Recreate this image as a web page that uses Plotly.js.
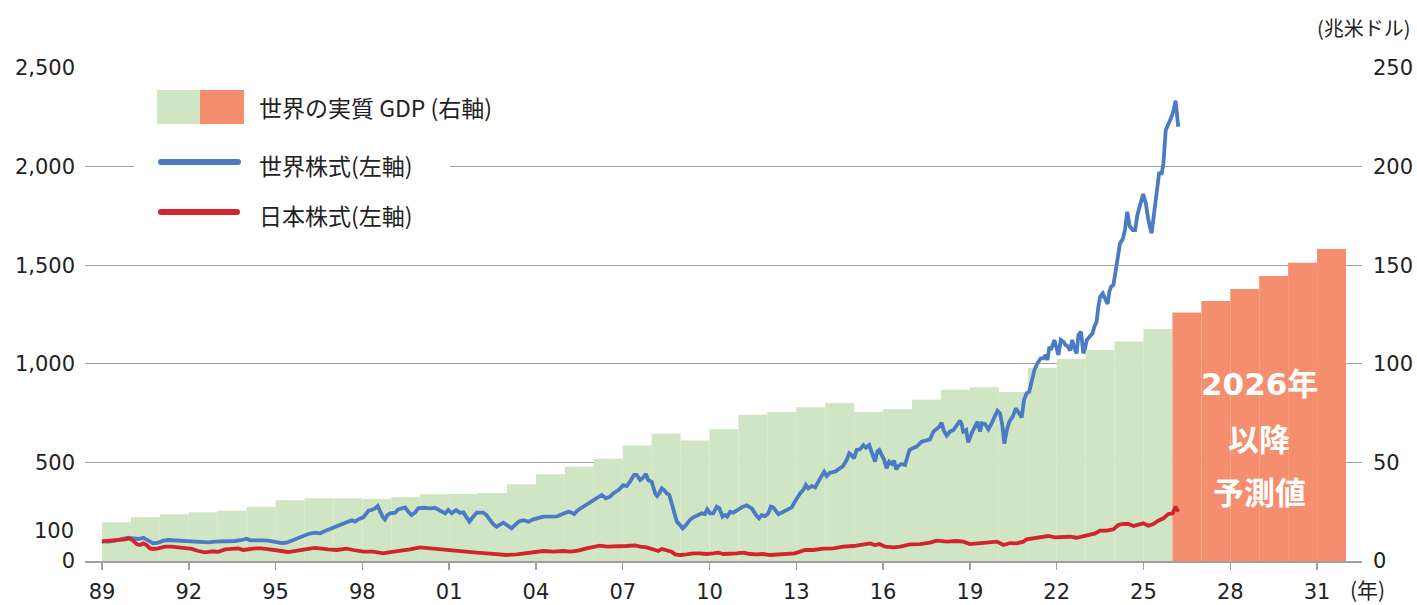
<!DOCTYPE html>
<html><head><meta charset="utf-8">
<script src="https://cdn.plot.ly/plotly-3.0.1.min.js"></script>
<style>html,body{margin:0;padding:0;background:#fff}</style>
</head><body><div id="chart" style="width:1417px;height:605px"></div>
<script>
// ---- DATA ----
const gdpYears = [1989,1990,1991,1992,1993,1994,1995,1996,1997,1998,1999,2000,2001,2002,2003,2004,2005,2006,2007,2008,2009,2010,2011,2012,2013,2014,2015,2016,2017,2018,2019,2020,2021,2022,2023,2024,2025];
const gdpValues = [19.6,22.2,23.7,24.7,25.5,27.5,30.8,31.8,31.8,31.4,32.3,33.8,34.0,34.5,38.9,44.0,47.8,51.8,58.6,64.5,61.1,66.8,74.2,75.5,78.0,80.1,75.6,77.0,81.8,86.8,88.1,85.7,97.9,102.4,107.0,111.3,117.6];
const forecastYears = [2026,2027,2028,2029,2030,2031];
const forecastValues = [126.0,131.8,137.9,144.5,151.3,158.2];

const worldX = [1989.0,1989.22,1989.45,1989.68,1989.91,1990.08,1990.26,1990.43,1990.54,1990.66,1990.77,1990.95,1991.12,1991.29,1991.52,1991.75,1991.98,1992.21,1992.45,1992.67,1992.91,1993.14,1993.37,1993.6,1993.83,1994.0,1994.12,1994.29,1994.52,1994.75,1994.98,1995.21,1995.38,1995.56,1995.67,1995.9,1996.13,1996.36,1996.54,1996.71,1996.88,1997.11,1997.34,1997.51,1997.63,1997.75,1997.86,1998.03,1998.15,1998.21,1998.32,1998.44,1998.53,1998.61,1998.7,1998.78,1998.86,1998.96,1999.13,1999.24,1999.36,1999.47,1999.59,1999.7,1999.82,1999.93,2000.1,2000.34,2000.51,2000.68,2000.86,2000.97,2001.09,2001.24,2001.37,2001.49,2001.6,2001.7,2001.83,2001.95,2002.18,2002.29,2002.41,2002.53,2002.64,2002.76,2002.87,2002.99,2003.16,2003.28,2003.4,2003.56,2003.74,2003.91,2004.08,2004.25,2004.49,2004.72,2004.9,2005.0,2005.12,2005.24,2005.32,2005.46,2005.64,2005.81,2005.98,2006.16,2006.27,2006.42,2006.56,2006.67,2006.85,2007.02,2007.14,2007.25,2007.39,2007.48,2007.6,2007.71,2007.8,2007.88,2008.0,2008.12,2008.19,2008.26,2008.35,2008.43,2008.52,2008.61,2008.69,2008.77,2008.87,2008.98,2009.07,2009.19,2009.32,2009.44,2009.58,2009.73,2009.84,2009.92,2010.02,2010.13,2010.25,2010.34,2010.45,2010.53,2010.61,2010.71,2010.82,2010.94,2011.11,2011.28,2011.46,2011.61,2011.71,2011.8,2011.92,2012.03,2012.12,2012.2,2012.3,2012.38,2012.49,2012.67,2012.84,2012.95,2013.07,2013.13,2013.24,2013.33,2013.41,2013.53,2013.65,2013.76,2013.88,2013.96,2014.05,2014.16,2014.34,2014.51,2014.62,2014.74,2014.83,2014.91,2014.99,2015.09,2015.2,2015.32,2015.41,2015.52,2015.61,2015.72,2015.8,2015.87,2015.95,2016.04,2016.12,2016.21,2016.3,2016.38,2016.45,2016.53,2016.64,2016.76,2016.84,2016.91,2017.02,2017.16,2017.33,2017.51,2017.62,2017.74,2017.85,2017.94,2018.02,2018.1,2018.2,2018.31,2018.43,2018.54,2018.66,2018.72,2018.77,2018.87,2018.94,2019.06,2019.18,2019.26,2019.35,2019.41,2019.52,2019.64,2019.75,2019.87,2019.95,2020.04,2020.12,2020.19,2020.27,2020.36,2020.48,2020.59,2020.67,2020.79,2020.87,2020.96,2021.05,2021.14,2021.23,2021.33,2021.45,2021.54,2021.62,2021.68,2021.75,2021.8,2021.86,2021.92,2021.98,2022.06,2022.14,2022.23,2022.31,2022.4,2022.46,2022.54,2022.61,2022.69,2022.75,2022.84,2022.92,2022.98,2023.04,2023.15,2023.24,2023.3,2023.38,2023.44,2023.5,2023.59,2023.67,2023.76,2023.82,2023.88,2023.96,2024.04,2024.1,2024.19,2024.28,2024.36,2024.44,2024.53,2024.63,2024.71,2024.79,2024.88,2024.99,2025.08,2025.17,2025.28,2025.36,2025.46,2025.54,2025.63,2025.69,2025.77,2025.86,2025.95,2026.03,2026.11,2026.2];
const worldY = [100,98,103,111.6,118,115,111.6,118,110,98,89.6,93,103,106.5,104.8,103,101.4,101.4,98,94.6,98,98,99.7,101.4,106.5,113,104.8,103,104.8,103,98,91.3,93,103,113,123.3,137,143.7,140.3,152,163,177.5,187.6,199.5,206.5,199.5,211.3,221.4,241.6,255,258.6,267,279,250,224.8,211,233,241.6,245,262,267,272,250,233,245,267,270,267,270,258.6,241.6,258.6,241.6,258.6,245,246.7,224.8,199.5,224.8,245,245,233,208,186,174,182.6,194,182.6,165.6,182.6,199.5,206.5,199.5,211,219.7,224.8,224.8,226,236.6,241.6,250,245,238,258.6,275.5,292.5,312.7,326,334.7,318,326,343,360,385,380,402,436,436,410.7,424,441,410.7,402,343,329.6,343,368.6,360,343,334.7,292.5,241.6,199.5,182.6,165.6,182.6,208,221.4,233,241.6,238,262,241.6,241.6,275.5,267,224.8,233,224.8,250,245,258.6,272,282.4,267,233,216.5,233,228,241.6,275.5,272,250,238,245,258.6,272,300,334.7,343,360,385.4,368.6,380,373.5,402,436,453,431,448,453,470,481.7,512,546,537.5,520.6,563,566,588,574.6,588,546,503.7,554.5,563,537.5,512,470,503.7,492,508.7,465,481.7,492,486.8,529,563,571.5,580,605,613.6,617,656,669.4,681,701.4,661,635.6,656,664,689.7,711.6,689.7,656,664,601.7,647.5,686,706.6,656,698,694.7,667.8,698,731.7,762,748,690,595,660,706,732,774,757,728,816,850,858,918,968.6,1002.5,1028,1028,1044.6,1019,1087,1070,1095,1120.7,1087,1044.6,1120.7,1112,1095,1087,1066.6,1120.7,1078.5,1053,1146,1163,1053,1078.5,1120.7,1137.6,1154.5,1188,1213.6,1289.6,1340,1357,1332,1303,1366,1391,1399.6,1475.7,1543,1611,1631,1678.5,1771,1695,1678.5,1678.5,1754.6,1797,1861,1814,1729,1662,1763,1881,1966,1966,2017,2186,2211,2245,2279,2334,2202];

const japanX = [1989.0,1989.33,1989.56,1989.79,1989.94,1990.08,1990.2,1990.31,1990.43,1990.54,1990.66,1990.77,1990.95,1991.18,1991.41,1991.64,1991.87,1992.1,1992.33,1992.56,1992.79,1993.02,1993.25,1993.48,1993.71,1993.88,1994.06,1994.29,1994.52,1994.75,1994.98,1995.21,1995.44,1995.67,1995.9,1996.13,1996.36,1996.59,1996.82,1997.11,1997.46,1997.69,1998.03,1998.38,1998.72,1998.96,1999.3,1999.65,1999.99,2000.22,2000.57,2000.91,2001.26,2001.6,2001.95,2002.3,2002.64,2002.99,2003.34,2003.56,2003.79,2004.03,2004.25,2004.6,2004.95,2005.18,2005.46,2005.75,2005.98,2006.21,2006.45,2006.67,2006.91,2007.14,2007.42,2007.6,2007.83,2008.06,2008.23,2008.35,2008.52,2008.69,2008.81,2008.98,2009.21,2009.44,2009.67,2009.9,2010.13,2010.3,2010.48,2010.71,2010.94,2011.17,2011.4,2011.63,2011.86,2012.09,2012.32,2012.55,2012.78,2012.95,2013.13,2013.3,2013.59,2013.93,2014.28,2014.62,2014.97,2015.32,2015.55,2015.72,2015.87,2016.07,2016.36,2016.59,2016.93,2017.28,2017.62,2017.85,2018.2,2018.54,2018.77,2019.0,2019.35,2019.7,2019.93,2020.16,2020.39,2020.62,2020.85,2020.96,2021.19,2021.42,2021.71,2021.94,2022.23,2022.46,2022.69,2022.92,2023.15,2023.33,2023.5,2023.73,2023.96,2024.13,2024.3,2024.48,2024.65,2024.82,2024.99,2025.17,2025.34,2025.51,2025.69,2025.86,2026.01,2026.11,2026.2];
const japanY = [100,103,106.5,110,115,103,86,81,89.6,81,64,61,64,72.5,72.5,67.6,64,61,50.7,44,49,47,59,62,64,55.8,61,64,64,61,55.8,50.7,45.6,52,55.8,61,66,61,59,55.8,62.5,55.8,47.3,47.3,38.9,45.6,50.7,59,69.3,66,59,52.4,50.7,44,42.3,38.9,33.8,30.4,33.8,38.9,42.3,47.3,50.7,47.3,50.7,48,52.4,64,72.5,77.6,72.5,72.5,76,76,79.3,72.5,69.3,55.8,50.7,61,55.8,47.3,33.8,30.4,33.8,38.9,38.9,35.5,38.9,42.3,35.5,35.5,38.9,42.3,35.5,33.8,35.5,30.4,32,32,37,38.9,47.3,55.8,55.8,62.5,64,72.5,76,86,89.6,81,86,72.5,69.3,72.5,84.5,86,93,103,98,101.4,98,86,89.6,93,98,81,91,89.6,98,110,115,118,126.8,120,120,123,118,126.8,131.8,140,153.8,153.8,160.7,182.6,187.6,187.6,177.5,182.6,191,179,187.6,204,216.5,238,241.6,275.5,250];

const xTickVals = [1989,1992,1995,1998,2001,2004,2007,2010,2013,2016,2019,2022,2025,2028,2031];
const xTickText = ['89','92','95','98','01','04','07','10','13','16','19','22','25','28','31'];
const leftTicks = [0,500,1000,1500,2000,2500];
const leftTickText = ['0','500','1,000','1,500','2,000','2,500'];
const rightTicks = [0,50,100,150,200,250];

const legendLabels = ['世界の実質 GDP (右軸)','世界株式(左軸)','日本株式(左軸)'];
const forecastLabel = ['2026年','以降','予測値'];

// ---- STYLE / LAYOUT ----
const CJK = '"Noto Sans CJK JP", "Noto Sans", sans-serif';
const NUM = '"DejaVu Sans", "Noto Sans CJK JP", sans-serif';
const GREEN = '#cfe5c4', ORANGE = '#f58e6e', BLUE = '#4a7bc4', RED = '#d3232c';
const TXT = '#222222', GRID = '#a0a0a0';
const L = 85, R = 1362, T = 68, B = 561;
const px = x => (x - L) / (R - L);
const py = y => (B - y) / (B - T);

const traces = [
  {type:'bar', x:gdpYears, y:gdpValues, width:1, offset:0, marker:{color:GREEN, line:{width:0}}, yaxis:'y', hoverinfo:'skip', showlegend:false},
  {type:'bar', x:forecastYears, y:forecastValues, width:1, offset:0, marker:{color:ORANGE, line:{width:0}}, yaxis:'y', hoverinfo:'skip', showlegend:false},
  {type:'scatter', mode:'lines', x:worldX, y:worldY, yaxis:'y2', line:{color:BLUE, width:3.8}, showlegend:false},
  {type:'scatter', mode:'lines', x:japanX, y:japanY, yaxis:'y2', line:{color:RED, width:3.8}, showlegend:false}
];

const shapes = [
  {type:'rect', xref:'paper', yref:'paper', x0:px(134), x1:px(450), y0:py(245), y1:py(80), fillcolor:'#ffffff', line:{width:0}, layer:'above'},
  {type:'rect', xref:'paper', yref:'paper', x0:px(157), x1:px(200), y0:py(124), y1:py(90), fillcolor:GREEN, line:{width:0}, layer:'above'},
  {type:'rect', xref:'paper', yref:'paper', x0:px(200), x1:px(244), y0:py(124), y1:py(90), fillcolor:ORANGE, line:{width:0}, layer:'above'},
  {type:'line', xref:'paper', yref:'paper', x0:px(161), x1:px(238), y0:py(162), y1:py(162), line:{color:BLUE, width:6}, layer:'above'},
  {type:'circle', xref:'paper', yref:'paper', x0:px(158), x1:px(164), y0:py(165), y1:py(159), fillcolor:BLUE, line:{width:0}, layer:'above'},
  {type:'circle', xref:'paper', yref:'paper', x0:px(235), x1:px(241), y0:py(165), y1:py(159), fillcolor:BLUE, line:{width:0}, layer:'above'},
  {type:'line', xref:'paper', yref:'paper', x0:px(161), x1:px(237), y0:py(212), y1:py(212), line:{color:RED, width:6}, layer:'above'},
  {type:'circle', xref:'paper', yref:'paper', x0:px(158), x1:px(164), y0:py(215), y1:py(209), fillcolor:RED, line:{width:0}, layer:'above'},
  {type:'circle', xref:'paper', yref:'paper', x0:px(234), x1:px(240), y0:py(215), y1:py(209), fillcolor:RED, line:{width:0}, layer:'above'}
];

const annotations = [
  {xref:'paper', yref:'paper', x:px(257), y:py(107), text:legendLabels[0], xanchor:'left', yanchor:'middle', showarrow:false, font:{family:CJK, size:23, color:TXT}},
  {xref:'paper', yref:'paper', x:px(257), y:py(165), text:legendLabels[1], xanchor:'left', yanchor:'middle', showarrow:false, font:{family:CJK, size:23, color:TXT}},
  {xref:'paper', yref:'paper', x:px(257), y:py(215), text:legendLabels[2], xanchor:'left', yanchor:'middle', showarrow:false, font:{family:CJK, size:23, color:TXT}},
  {xref:'paper', yref:'y2', x:0, y:100, text:'100', xanchor:'right', yanchor:'middle', xshift:-9, yshift:10, showarrow:false, font:{family:NUM, size:21, color:TXT}},
  {xref:'paper', yref:'paper', x:px(1364), y:py(27), text:'(兆米ドル)', xanchor:'center', yanchor:'middle', showarrow:false, font:{family:CJK, size:20, color:TXT}},
  {xref:'paper', yref:'paper', x:px(1367), y:py(589), text:'(年)', xanchor:'center', yanchor:'middle', showarrow:false, font:{family:CJK, size:21, color:TXT}},
  {xref:'x', yref:'y', x:2029, y:89.8, text:forecastLabel[0], xanchor:'center', yanchor:'middle', showarrow:false, font:{family:NUM, size:31, color:'#ffffff', weight:'bold'}},
  {xref:'x', yref:'y', x:2029, y:62.4, text:forecastLabel[1], xanchor:'center', yanchor:'middle', showarrow:false, font:{family:CJK, size:31, color:'#ffffff', weight:'bold'}},
  {xref:'x', yref:'y', x:2029, y:36, text:forecastLabel[2], xanchor:'center', yanchor:'middle', showarrow:false, font:{family:CJK, size:31, color:'#ffffff', weight:'bold'}}
];

const layout = {
  width:1417, height:605,
  margin:{l:L, r:1417-R, t:T, b:605-B, pad:0},
  paper_bgcolor:'#ffffff', plot_bgcolor:'#ffffff',
  font:{family:CJK, color:TXT},
  showlegend:false,
  barmode:'overlay',
  xaxis:{type:'linear', range:[1989 - 17/28.93, 1989 + 1260/28.93], tickvals:xTickVals, ticktext:xTickText,
         ticks:'outside', ticklen:7, tickwidth:1.5, tickcolor:GRID, showline:true, linecolor:GRID, linewidth:1.5,
         showgrid:false, zeroline:false, tickfont:{family:NUM, size:21, color:TXT}, ticklabelstandoff:4, fixedrange:true},
  yaxis:{range:[0,250], side:'right', tickvals:rightTicks, showgrid:true, gridcolor:GRID, gridwidth:1.2, zeroline:false,
         ticks:'', showline:false, tickfont:{family:NUM, size:21, color:TXT}, ticklabelstandoff:10, fixedrange:true},
  yaxis2:{range:[0,2500], side:'left', overlaying:'y', tickvals:leftTicks, ticktext:leftTickText, showgrid:false, zeroline:false,
          ticks:'', showline:false, tickfont:{family:NUM, size:21, color:TXT}, ticklabelstandoff:9, fixedrange:true},
  shapes:shapes,
  annotations:annotations
};

Plotly.newPlot('chart', traces, layout, {staticPlot:true, displayModeBar:false});
</script>
</body></html>
